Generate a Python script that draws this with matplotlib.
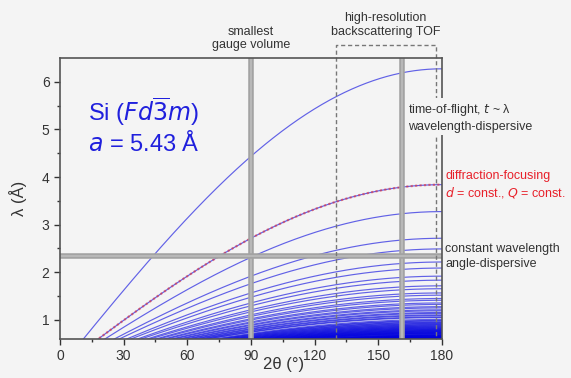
import numpy as np
import matplotlib
matplotlib.use("Agg")
import matplotlib.pyplot as plt

plt.rcParams["font.family"] = ["Liberation Sans", "DejaVu Sans"]

# Si, Fd-3m, lattice parameter in Angstrom
LATTICE_A = 5.43
# allowed reflections, N = h^2 + k^2 + l^2 (visible down to lambda ~ 0.6 A)
HKL_N = [3, 8, 11, 16, 19, 24, 27, 32, 35, 40, 43, 48, 51, 56, 59, 64, 67, 72,
         75, 80, 83, 88, 91, 96, 99, 104, 107, 115, 120, 123, 128, 131, 136,
         139, 144, 147, 152, 155, 160, 163, 168, 171, 176, 179, 184, 187, 192,
         195, 200, 203, 208, 211, 216, 219, 224, 227, 232, 235, 243, 248, 251,
         256, 259, 264, 267, 272, 275, 280, 283, 288, 291, 296, 299, 304, 307,
         312, 315, 320, 323]
FOCUS_N = 8                     # curve highlighted as d = const.
LAMBDA_CONST = 2.34             # constant-wavelength line
TWOTHETA_GAUGE = 90             # smallest gauge volume
TWOTHETA_TOF = 161              # time-of-flight detector
BACKSCATTER = (130, 177)        # high-resolution backscattering window

BG = "#f4f4f4"
BLUE = "#0000dd"
GRAY = "#a3a3a3"
INK = "#333333"

fig = plt.figure(figsize=(5.71, 3.78), dpi=100)
fig.patch.set_facecolor(BG)
ax = fig.add_axes([0.105, 0.103, 0.669, 0.744])
ax.set_facecolor(BG)

tt = np.linspace(0, 180, 721)
for n in HKL_N:
    d = LATTICE_A / np.sqrt(n)
    lam = 2 * d * np.sin(np.radians(tt / 2))
    ax.plot(tt, lam, color=BLUE, lw=0.85, alpha=0.6, zorder=2)
    if n == FOCUS_N:
        ax.plot(tt, lam, color="#e0303a", lw=1.6, ls=(0, (1, 1)), alpha=0.6, zorder=3)

# instrument geometry guides
for x in (TWOTHETA_GAUGE, TWOTHETA_TOF):
    ax.axvline(x, color=GRAY, lw=4, zorder=4)
    ax.axvline(x, color="#bdbdbd", lw=1.2, zorder=4)
ax.axhline(LAMBDA_CONST, color=GRAY, lw=4, zorder=4)
ax.axhline(LAMBDA_CONST, color="#bdbdbd", lw=1.2, zorder=4)

x0, x1 = BACKSCATTER
ax.plot([x0, x0, x1, x1], [0.6, 6.76, 6.76, 0.6], color="#777777", lw=1,
        ls=(0, (3, 2)), clip_on=False, zorder=5)

ax.set_xlim(0, 180)
ax.set_ylim(0.6, 6.5)
ax.set_xticks(range(0, 181, 30))
ax.set_xticks(range(15, 180, 30), minor=True)
ax.set_yticks(range(1, 7))
ax.set_yticks(np.arange(1.5, 6.5, 1), minor=True)
ax.tick_params(which="major", direction="out", length=4, width=1, colors=INK,
               labelsize=10)
ax.tick_params(which="minor", direction="out", length=2.5, width=1, colors=INK)
for s in ax.spines.values():
    s.set_color("#555555")
    s.set_linewidth(1.2)
    s.set_zorder(6)

ax.set_xlabel("2θ (°)", fontsize=12, color=INK)
ax.xaxis.set_label_coords(0.585, -0.065)
ax.set_ylabel("λ (Å)", fontsize=12, color=INK)
ax.yaxis.set_label_coords(-0.085, 0.5)

ax.text(13, 5.17, r"Si ($Fd\overline{3}m$)", fontsize=17, color="#2020dd",
        zorder=7)
ax.text(13, 4.54, r"$a$ = 5.43 Å", fontsize=17, color="#2020dd", zorder=7)

ax.text(TWOTHETA_GAUGE, 6.64, "smallest\ngauge volume", ha="center",
        va="bottom", fontsize=9, color=INK, clip_on=False, linespacing=1.15)
ax.text(sum(BACKSCATTER) / 2, 6.92, "high-resolution\nbackscattering TOF",
        ha="center", va="bottom", fontsize=9, color=INK, clip_on=False,
        linespacing=1.15)

box = dict(facecolor=BG, edgecolor="none", pad=1.5)
ax.text(164, 5.25, "time-of-flight, $t$ ~ λ\nwavelength-dispersive",
        ha="left", va="center", fontsize=9, color=INK, clip_on=False,
        linespacing=1.25, bbox=box, zorder=8)
ax.text(181.5, 3.84, "diffraction-focusing\n$d$ = const., $Q$ = const.",
        ha="left", va="center", fontsize=9, color="#e8202a", clip_on=False,
        linespacing=1.25, bbox=box, zorder=8)
ax.text(181.5, 2.33, "constant wavelength\nangle-dispersive",
        ha="left", va="center", fontsize=9, color=INK, clip_on=False,
        linespacing=1.25, bbox=box, zorder=8)

fig.savefig("out.png", dpi=100, facecolor=BG)
